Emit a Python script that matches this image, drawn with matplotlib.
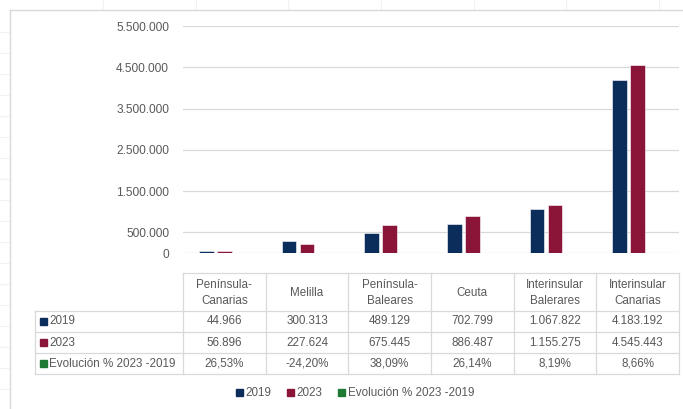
import matplotlib.pyplot as plt
from matplotlib.patches import Patch

categories = ["Península-\nCanarias", "Melilla", "Península-\nBaleares", "Ceuta",
              "Interinsular\nBalerares", "Interinsular\nCanarias"]
values_2019 = [44966, 300313, 489129, 702799, 1067822, 4183192]
values_2023 = [56896, 227624, 675445, 886487, 1155275, 4545443]
evolucion = [26.53, -24.20, 38.09, 26.14, 8.19, 8.66]
series_names = ["2019", "2023", "Evolución % 2023 -2019"]
yticks = [0, 500000, 1500000, 2500000, 3500000, 4500000, 5500000]

c2019 = "#0B2D5B"
c2023 = "#8B1538"
cevo = "#1E7B34"
grid_c = "#D9D9D9"
txt_c = "#595959"

plt.rcParams["font.family"] = ["Liberation Sans", "DejaVu Sans"]


def miles(v):
    return f"{v:,}".replace(",", ".")


def pct(v):
    return f"{v:.2f}".replace(".", ",") + "%"


W, H = 683, 409
fig = plt.figure(figsize=(W / 100, H / 100), dpi=100)

# background layer in pixel coordinates
bg = fig.add_axes([0, 0, 1, 1], zorder=0)
bg.set_xlim(0, W)
bg.set_ylim(H, 0)
bg.axis("off")

# spreadsheet grid visible around the chart
for x in [103, 196, 288, 381, 474, 566, 659]:
    bg.plot([x, x], [0, 10], color="#F2F2F2", lw=0.8)
for y in range(32, H, 21):
    bg.plot([0, 10], [y, y], color="#F2F2F2", lw=0.8)
# chart area border
bg.plot([10, 10], [10, H], color=grid_c, lw=1)
bg.plot([10, W], [10, 10], color=grid_c, lw=1)

# plot area
left_px, right_px, top_px, bot_px = 183, 679, 26, 253
ax = fig.add_axes([left_px / W, (H - bot_px) / H,
                   (right_px - left_px) / W, (bot_px - top_px) / H], zorder=1)
ax.patch.set_alpha(0)

n = len(categories)
xs = list(range(n))
bw = 0.176
step = 0.218
ax.bar([x - step for x in xs], values_2019, width=bw, color=c2019,
       edgecolor="white", linewidth=0.4, zorder=3)
ax.bar(xs, values_2023, width=bw, color=c2023,
       edgecolor="white", linewidth=0.4, zorder=3)
ax.bar([x + step for x in xs], [e / 100 for e in evolucion], width=bw,
       color=cevo, zorder=3)

ax.set_xlim(-0.5, n - 0.5)
ax.set_ylim(0, 5500000)
ax.set_yticks(yticks)
ax.set_yticklabels([miles(v) for v in yticks], color=txt_c, fontsize=8.6)
ax.set_xticks([])
ax.tick_params(axis="y", length=0, pad=10)
ax.grid(axis="y", color=grid_c, lw=0.9, zorder=0)
for s in ax.spines.values():
    s.set_visible(False)

# data table
col_w = (right_px - left_px) / n
row_lines = [273, 310.5, 331.5, 352.5, 374]
tab_left = 35
lw_t = 0.9
bg.plot([left_px, right_px], [row_lines[0]] * 2, color=grid_c, lw=lw_t)
for y in row_lines[1:]:
    bg.plot([tab_left, right_px], [y, y], color=grid_c, lw=lw_t)
bg.plot([tab_left, tab_left], [row_lines[1], row_lines[-1]], color=grid_c, lw=lw_t)
for i in range(n + 1):
    x = left_px + i * col_w
    bg.plot([x, x], [row_lines[0], row_lines[-1]], color=grid_c, lw=lw_t)

fs = 8.4
for i, cat in enumerate(categories):
    cx = left_px + (i + 0.5) * col_w
    bg.text(cx, (row_lines[0] + row_lines[1]) / 2 + 1, cat, ha="center", va="center",
            fontsize=fs, color=txt_c, linespacing=1.5)
    bg.text(cx, (row_lines[1] + row_lines[2]) / 2 + 0.5, miles(values_2019[i]),
            ha="center", va="center", fontsize=fs, color=txt_c)
    bg.text(cx, (row_lines[2] + row_lines[3]) / 2 + 0.5, miles(values_2023[i]),
            ha="center", va="center", fontsize=fs, color=txt_c)
    bg.text(cx, (row_lines[3] + row_lines[4]) / 2 + 0.5, pct(evolucion[i]),
            ha="center", va="center", fontsize=fs, color=txt_c)

for r, (name, col) in enumerate(zip(series_names, [c2019, c2023, cevo])):
    yc = (row_lines[r + 1] + row_lines[r + 2]) / 2
    bg.add_patch(plt.Rectangle((40, yc - 3), 6.5, 6.5, color=col))
    bg.text(49, yc + 0.5, name, ha="left", va="center", fontsize=fs, color=txt_c)

# legend
handles = [Patch(color=c) for c in [c2019, c2023, cevo]]
fig.legend(handles, series_names, loc="center", bbox_to_anchor=(355 / W, 1 - 393.5 / H),
           ncol=3, frameon=False, fontsize=fs, labelcolor=txt_c,
           handlelength=0.6, handleheight=0.6, handletextpad=0.25, columnspacing=1.3)

fig.savefig("out.png", dpi=100)
